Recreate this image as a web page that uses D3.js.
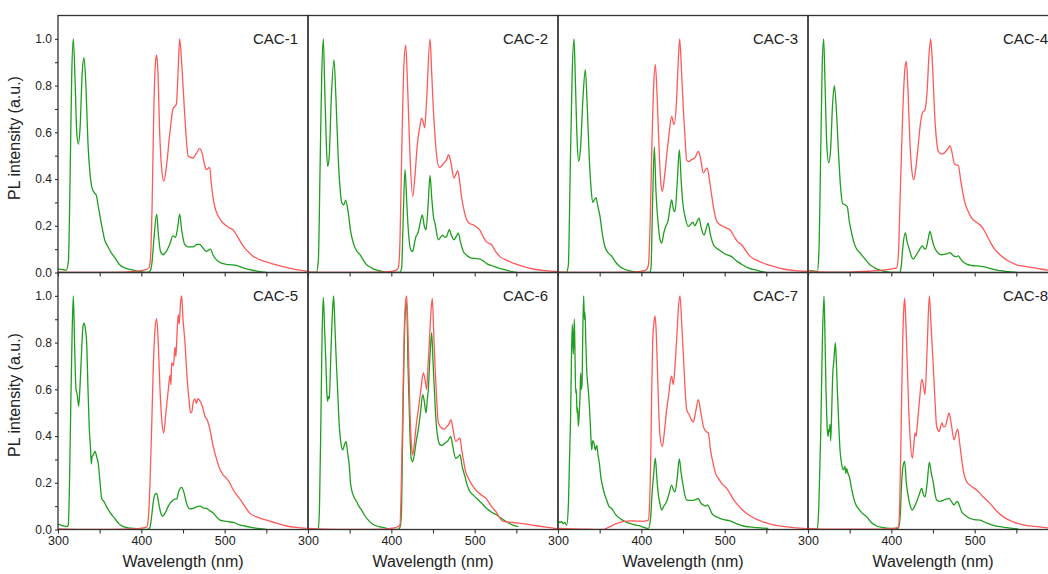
<!DOCTYPE html>
<html>
<head>
<meta charset="utf-8">
<script src="https://cdn.jsdelivr.net/npm/d3@7"></script>
<style>
	body { margin: 0; background: #ffffff; }
	svg text { font-family: "Liberation Sans", Arial, sans-serif; fill: #222; }
</style>
</head>
<body>
<svg id="vis"></svg>
<script>
// ---------- data ----------
var panelNames = ["CAC-1", "CAC-2", "CAC-3", "CAC-4", "CAC-5", "CAC-6", "CAC-7", "CAC-8"];
var wavelengthTicks = [300, 350, 400, 450, 500, 550];
var wavelengthLabels = [300, 400, 500];
var intensityTicks = [0, 0.1, 0.2, 0.3, 0.4, 0.5, 0.6, 0.7, 0.8, 0.9, 1.0];
var intensityLabels = [0, 0.2, 0.4, 0.6, 0.8, 1.0];

// [wavelength (nm), normalised PL intensity]
var cac1Green = [[300,0.015],[306,0.012],[310,0.01],[312.5,0.05],[314.5,0.4],[316.5,0.85],[318.4,1.0],[320.5,0.82],[322.5,0.6],[324.4,0.55],[326.5,0.62],[329,0.85],[331.2,0.92],[333.5,0.8],[336,0.55],[338.5,0.42],[341,0.36],[344,0.34],[346,0.33],[348,0.29],[350,0.25],[353,0.19],[356,0.14],[360,0.11],[364,0.084],[368,0.065],[374,0.033],[380,0.02],[390,0.01],[400,0.003],[408,0.0],[411,0.01],[413,0.05],[415,0.14],[418.4,0.25],[420.5,0.16],[423,0.09],[426,0.076],[430,0.09],[434,0.12],[438,0.157],[441,0.15],[443.5,0.19],[446,0.25],[448.5,0.18],[452,0.12],[456,0.11],[462,0.11],[467,0.12],[470,0.12],[474,0.105],[478,0.09],[483,0.1],[486,0.075],[490,0.055],[496,0.04],[502,0.035],[508,0.033],[514,0.03],[522,0.02],[530,0.012],[540,0.005],[550,0.0]];
var cac1Red = [[300,0.002],[340,0.0],[380,0.002],[395,0.006],[405,0.012],[409,0.02],[411,0.06],[413,0.3],[415,0.7],[417,0.9],[418.4,0.93],[420,0.85],[422,0.6],[424.5,0.44],[427,0.39],[430,0.45],[434,0.59],[438,0.7],[442,0.72],[444,0.85],[446,1.0],[448,0.92],[450,0.8],[452,0.68],[454,0.57],[456,0.5],[462,0.49],[466,0.51],[470,0.53],[473,0.51],[476,0.46],[478,0.44],[482,0.45],[484,0.38],[487,0.3],[490,0.26],[496,0.22],[502,0.2],[506,0.19],[510,0.183],[516,0.15],[522,0.114],[528,0.09],[534,0.07],[542,0.055],[550,0.045],[560,0.035],[570,0.025],[580,0.017],[590,0.01],[600,0.005]];

var cac2Green = [[300,0.0],[310,0.0],[312.4,0.05],[314.5,0.45],[316.5,0.85],[318.4,1.0],[320,0.8],[322,0.55],[323.6,0.454],[325.5,0.5],[328,0.75],[331.2,0.91],[333.5,0.75],[336.4,0.48],[338.5,0.36],[340.4,0.3],[343,0.29],[345.2,0.31],[348.4,0.254],[351,0.18],[354.4,0.126],[358,0.095],[362.4,0.076],[366,0.055],[370.4,0.033],[376,0.02],[382.4,0.01],[390,0.004],[398.4,0.0],[410,0.0],[412.4,0.02],[414,0.2],[416.4,0.44],[418.5,0.3],[420.4,0.18],[423,0.1],[425.6,0.09],[428,0.13],[429.6,0.154],[432,0.17],[435,0.22],[437.2,0.247],[439.5,0.2],[441.6,0.183],[444,0.28],[446.4,0.416],[448.5,0.32],[450.5,0.24],[452.4,0.21],[456.4,0.14],[459,0.15],[461.6,0.16],[464,0.15],[466.4,0.155],[469.6,0.183],[472,0.16],[475.2,0.14],[478,0.155],[480.4,0.168],[483,0.13],[486.4,0.09],[490,0.075],[494.4,0.064],[500,0.06],[506.4,0.057],[512,0.045],[516,0.035],[520.4,0.03],[528,0.02],[538.4,0.01],[545,0.004],[550.4,0.0]];
var cac2Red = [[300,0.002],[350,0.0],[390,0.002],[402,0.006],[406,0.01],[408.4,0.02],[410.5,0.15],[412.4,0.5],[415,0.88],[417.2,0.973],[419.5,0.8],[422.4,0.5],[425.6,0.326],[428.5,0.42],[431.2,0.55],[434,0.62],[436.4,0.661],[438.5,0.64],[440,0.619],[442.5,0.75],[446.4,1.0],[448.5,0.85],[450.4,0.7],[452.5,0.58],[454.4,0.5],[457.6,0.45],[460,0.455],[463.2,0.469],[466,0.48],[468.8,0.504],[471.5,0.47],[475.2,0.404],[477.5,0.42],[479.6,0.436],[482,0.39],[484.4,0.32],[487,0.27],[490.4,0.226],[494,0.21],[498.4,0.204],[502,0.195],[506.4,0.18],[510,0.155],[514.4,0.13],[520.4,0.119],[525,0.09],[530.4,0.068],[540,0.05],[550.4,0.035],[560,0.024],[570.4,0.015],[585,0.008],[600,0.004]];

var cac3Green = [[300,0.0],[310,0.0],[312.4,0.03],[314.5,0.4],[317,0.85],[319.2,1.0],[321,0.8],[323,0.56],[324.8,0.476],[327,0.53],[330,0.75],[332.8,0.868],[335,0.72],[337.6,0.482],[339.5,0.37],[341.6,0.3],[343.5,0.31],[345.6,0.32],[348,0.28],[350.4,0.24],[353,0.17],[356.4,0.11],[360,0.085],[364.4,0.07],[369,0.045],[374.4,0.025],[380,0.014],[388.4,0.005],[402,0.0],[410,0.0],[411.6,0.02],[413.5,0.3],[415.6,0.537],[417.5,0.35],[420.4,0.2],[422.5,0.14],[424.4,0.126],[427,0.17],[429.6,0.2],[432,0.22],[434.5,0.28],[436.4,0.311],[438.5,0.27],[440.4,0.261],[443,0.38],[445.6,0.525],[448,0.38],[450,0.29],[452.4,0.24],[456.4,0.197],[459,0.205],[461.6,0.215],[464.4,0.2],[466.5,0.215],[469.2,0.233],[472,0.19],[475.2,0.16],[478,0.19],[480,0.211],[483,0.16],[486.4,0.12],[490,0.105],[494.4,0.094],[500,0.08],[508.4,0.068],[514,0.05],[520.4,0.035],[528,0.02],[538.4,0.01],[545,0.004],[550.4,0.0]];
var cac3Red = [[300,0.002],[350,0.0],[390,0.002],[402,0.007],[406,0.012],[408.4,0.03],[410.5,0.2],[412.4,0.5],[414.8,0.8],[416.8,0.89],[419,0.75],[421.6,0.5],[423.5,0.38],[425.2,0.347],[427.5,0.4],[430.4,0.5],[433.5,0.6],[436.4,0.668],[439.2,0.633],[442,0.72],[444,0.88],[446,1.0],[448,0.88],[450.4,0.7],[452.5,0.57],[454.4,0.48],[457,0.475],[460.4,0.483],[464,0.49],[468.4,0.518],[471,0.49],[474.4,0.426],[477,0.44],[479.2,0.447],[482,0.39],[484.4,0.33],[487,0.27],[490.4,0.22],[494,0.205],[498.4,0.197],[502,0.19],[506.4,0.183],[512,0.15],[516,0.13],[520.4,0.119],[525,0.095],[530.4,0.07],[540,0.05],[550.4,0.035],[560,0.025],[570.4,0.015],[585,0.008],[600,0.005]];

var cac4Green = [[300,0.009],[306,0.007],[311.2,0.005],[313,0.08],[315.2,0.5],[317,0.88],[318.8,1.0],[320.5,0.8],[322.5,0.55],[324.8,0.47],[327,0.52],[329.5,0.72],[331.6,0.8],[334,0.7],[336.4,0.526],[339,0.37],[341.6,0.294],[344.5,0.29],[347.2,0.28],[349.5,0.22],[352.4,0.169],[355,0.13],[358.4,0.1],[361,0.09],[364.4,0.075],[369,0.055],[374.4,0.033],[380,0.02],[386.4,0.01],[394,0.004],[402.4,0.0],[410.4,0.0],[412,0.03],[413.6,0.1],[416.8,0.169],[419,0.13],[421.6,0.1],[424,0.07],[426.4,0.057],[429,0.07],[432.4,0.09],[435,0.105],[437.2,0.114],[439,0.105],[441.2,0.1],[444,0.14],[446.4,0.176],[449,0.14],[451.5,0.11],[454.4,0.09],[457,0.08],[460.4,0.076],[463,0.078],[466.4,0.08],[470.4,0.085],[473,0.077],[475.2,0.07],[478,0.068],[480.4,0.071],[483,0.058],[486.4,0.045],[491,0.035],[496.4,0.03],[503,0.028],[510.4,0.025],[518,0.018],[524,0.012],[530.4,0.008],[540,0.004],[550.4,0.0]];
var cac4Red = [[300,0.009],[306,0.004],[320,0.002],[350,0.002],[375,0.006],[390,0.01],[398.4,0.014],[406.4,0.02],[408.5,0.08],[410.4,0.3],[412.5,0.55],[414.4,0.75],[416.5,0.88],[418,0.904],[420,0.78],[422.4,0.55],[424.5,0.44],[426.8,0.397],[429.5,0.45],[432.4,0.55],[435,0.64],[437.2,0.683],[440.4,0.697],[443,0.78],[445,0.92],[447.2,1.0],[449.5,0.88],[452.4,0.65],[454.4,0.56],[456.4,0.518],[460.4,0.507],[463,0.51],[465.6,0.52],[468,0.53],[470.4,0.543],[473,0.51],[475.6,0.466],[478,0.46],[480.4,0.46],[483,0.4],[486.4,0.33],[489,0.29],[492.4,0.261],[496,0.235],[500.4,0.219],[504,0.21],[508.4,0.197],[513,0.17],[518.4,0.133],[524,0.1],[530.4,0.076],[540,0.05],[550.4,0.033],[562,0.025],[574.4,0.018],[588,0.01],[600,0.006]];

var cac5Green = [[300,0.023],[305,0.017],[310,0.012],[312.4,0.02],[313.8,0.2],[315.2,0.5],[317,0.85],[318.4,1.0],[320,0.78],[321.6,0.6],[323,0.58],[324.8,0.527],[326.5,0.62],[328.8,0.8],[330,0.87],[331.2,0.883],[332.8,0.86],[334.4,0.8],[336,0.6],[337.6,0.427],[339,0.35],[340,0.28],[340.8,0.31],[342.5,0.32],[344.4,0.334],[346.5,0.31],[348.4,0.28],[350.5,0.2],[352.4,0.133],[355,0.12],[358.4,0.097],[363,0.07],[368.4,0.046],[373,0.025],[378.4,0.012],[384,0.007],[390.4,0.005],[400,0.002],[406.4,0.0],[409,0.003],[410.4,0.01],[412.5,0.06],[414.4,0.12],[416.5,0.15],[418.4,0.155],[420.5,0.12],[423,0.075],[425.6,0.057],[428.5,0.07],[432.4,0.1],[435,0.115],[438.4,0.126],[440,0.13],[442.4,0.13],[445,0.165],[448.4,0.18],[451,0.16],[454.4,0.11],[458.4,0.088],[462,0.09],[466,0.097],[470.4,0.1],[474,0.093],[478.4,0.09],[482,0.08],[486.4,0.07],[490,0.055],[494.4,0.04],[500,0.036],[505,0.033],[510.4,0.03],[518,0.02],[524,0.015],[530.4,0.01],[540,0.005],[550.4,0.0]];
var cac5Red = [[300,0.003],[340,0.0],[380,0.002],[395,0.004],[402,0.007],[406.4,0.01],[408.5,0.05],[410.4,0.2],[412.5,0.45],[414.4,0.7],[416.5,0.86],[418.4,0.903],[420.3,0.8],[422.4,0.6],[424.5,0.47],[426.8,0.413],[429.5,0.5],[432.4,0.6],[434.5,0.66],[435.5,0.62],[436.4,0.714],[438.5,0.7],[440.4,0.78],[441.5,0.74],[443,0.85],[444.4,0.92],[445.5,0.88],[447,0.97],[448.4,1.0],[450,0.9],[452.4,0.8],[454.5,0.67],[456,0.6],[457.6,0.542],[459,0.5],[460.4,0.5],[462,0.54],[464.4,0.559],[466,0.54],[468,0.56],[470.4,0.55],[473,0.53],[476.4,0.484],[479,0.47],[482.4,0.427],[486,0.36],[490.4,0.3],[494,0.26],[498.4,0.233],[502,0.22],[506,0.2],[510.4,0.169],[514,0.15],[518.4,0.13],[524,0.1],[530.4,0.069],[540,0.052],[550.4,0.04],[562,0.027],[574.4,0.015],[586,0.009],[598.4,0.005]];

var cac6Green = [[300,0.0],[308,0.0],[312.4,0.0],[313.8,0.1],[315.6,0.5],[317,0.85],[318.4,0.993],[320,0.85],[321.6,0.7],[322.7,0.58],[323.6,0.549],[324.5,0.57],[325.6,0.56],[327,0.7],[328.4,0.85],[329.6,0.95],[330.8,1.0],[332,0.9],[333.6,0.75],[335.5,0.6],[337.6,0.441],[339.5,0.37],[341.6,0.341],[343.5,0.36],[345.6,0.377],[347.5,0.33],[349.6,0.269],[351,0.2],[352.4,0.169],[355,0.14],[358.4,0.119],[361,0.1],[364.4,0.083],[368,0.06],[372.4,0.04],[377,0.025],[382.4,0.015],[388,0.01],[394.4,0.005],[402,0.0],[408,0.0],[410.4,0.01],[412,0.06],[413.6,0.4],[415.5,0.8],[417.2,0.95],[418.4,0.97],[420,0.7],[422.4,0.4],[424,0.3],[425.6,0.29],[428,0.33],[430,0.38],[432.4,0.43],[435,0.5],[437.6,0.577],[439.5,0.55],[441.6,0.499],[443,0.55],[444.4,0.6],[446.5,0.75],[448.4,0.843],[450,0.72],[451.6,0.6],[453,0.5],[454.4,0.43],[456.5,0.38],[458.4,0.362],[461,0.36],[464.4,0.37],[468,0.38],[471.2,0.398],[474,0.35],[477.2,0.305],[480,0.31],[482.4,0.32],[485,0.27],[488.4,0.226],[491,0.19],[494.4,0.162],[499,0.145],[504.4,0.126],[509,0.11],[514.4,0.09],[520,0.075],[526.4,0.062],[532,0.048],[538.4,0.033],[545,0.02],[552.4,0.012]];
var cac6Red = [[300,0.005],[320,0.002],[360,0.0],[390,0.002],[402,0.006],[408,0.012],[410.4,0.02],[412,0.2],[413.6,0.5],[415.5,0.85],[417,0.97],[418.4,1.0],[420.3,0.8],[422.4,0.5],[424,0.37],[425.6,0.319],[428,0.38],[430,0.45],[432.4,0.513],[435.5,0.6],[438.4,0.67],[440.5,0.64],[442.4,0.599],[444,0.7],[445.6,0.8],[447.5,0.93],[449.2,0.989],[451,0.83],[452.4,0.7],[454.5,0.55],[456.4,0.456],[460.4,0.434],[463.5,0.43],[466.4,0.44],[469,0.45],[471.6,0.47],[474,0.43],[477.2,0.377],[480,0.385],[482.4,0.391],[484.5,0.34],[486.4,0.3],[489,0.25],[492.4,0.219],[497,0.19],[502.4,0.165],[508,0.148],[514.4,0.13],[520,0.1],[526.4,0.072],[530,0.05],[534.4,0.035],[546,0.03],[558.4,0.025],[574,0.016],[590.4,0.008],[600,0.003]];

var cac7Green = [[300,0.043],[302,0.03],[304.4,0.035],[306,0.025],[308,0.03],[310.4,0.019],[312.4,0.1],[313.8,0.3],[315.2,0.5],[316.2,0.75],[317.2,0.878],[318.4,0.75],[319.6,0.9],[320.4,0.75],[321.2,0.585],[322,0.6],[322.8,0.499],[323.6,0.52],[324.4,0.441],[325.6,0.5],[326.5,0.58],[327.2,0.67],[328,0.6],[328.8,0.62],[329.8,0.85],[330.8,1.0],[331.6,0.9],[332.4,0.93],[333.4,0.8],[334.4,0.685],[335.8,0.62],[337.2,0.556],[338.8,0.45],[340.4,0.341],[341.8,0.38],[343.2,0.37],[344.8,0.34],[346.4,0.36],[348,0.32],[349.6,0.284],[351.6,0.22],[353.6,0.184],[356,0.15],[358.4,0.126],[361,0.1],[364.4,0.09],[369,0.065],[374.4,0.047],[380,0.035],[386.4,0.026],[392,0.02],[398.4,0.015],[404,0.008],[408.4,0.005],[411.2,0.05],[412.8,0.15],[414.4,0.22],[416.8,0.305],[418.6,0.22],[420.4,0.15],[422.4,0.11],[424.4,0.083],[427,0.1],[430.4,0.12],[433,0.15],[436.4,0.19],[438.4,0.17],[440.4,0.16],[443,0.22],[445.6,0.302],[447.5,0.25],[449.6,0.2],[452,0.15],[454.4,0.126],[458,0.125],[462.4,0.125],[465,0.128],[468.4,0.133],[471,0.115],[474.4,0.105],[477,0.1],[479.6,0.105],[482,0.09],[484.4,0.07],[488,0.058],[492.4,0.051],[499,0.042],[506.4,0.037],[514,0.025],[522.4,0.015],[530,0.011],[538.4,0.008],[545,0.006],[552.4,0.005]];
var cac7Red = [[300,0.005],[330,0.002],[354.4,0.0],[358,0.005],[362.4,0.012],[368,0.022],[374.4,0.031],[380,0.035],[386.4,0.037],[394,0.036],[402.4,0.035],[406,0.037],[408.4,0.04],[409.8,0.1],[411.2,0.3],[412.5,0.6],[413.6,0.8],[415,0.88],[416.4,0.914],[417.8,0.85],[419.2,0.7],[420.8,0.52],[422.4,0.4],[425.2,0.355],[428,0.43],[430.4,0.513],[433,0.58],[435,0.64],[436.4,0.656],[438.4,0.62],[440.4,0.7],[442.5,0.82],[444.5,0.95],[446.4,1.0],[448.5,0.88],[450.4,0.75],[452.5,0.6],[454.4,0.513],[457.6,0.49],[460,0.47],[462.4,0.46],[465,0.5],[468.4,0.556],[471,0.51],[474.4,0.441],[477.5,0.42],[480.4,0.413],[483,0.34],[486.4,0.28],[489,0.24],[492.4,0.219],[497,0.195],[502.4,0.176],[507,0.15],[512.4,0.119],[517,0.1],[522.4,0.08],[530,0.06],[538.4,0.043],[548,0.03],[558.4,0.02],[570,0.013],[582.4,0.008],[600,0.003]];

var cac8Green = [[300,0.0],[311.2,0.0],[313,0.1],[315.2,0.4],[317.2,0.8],[319.2,1.0],[320.4,0.82],[321.6,0.6],[322.8,0.45],[324,0.398],[325,0.43],[325.6,0.42],[326.4,0.45],[327.2,0.38],[328.4,0.5],[329.6,0.656],[331,0.72],[332.8,0.8],[334,0.72],[335.2,0.6],[336.8,0.46],[338.4,0.341],[340.4,0.28],[342.4,0.255],[344.4,0.27],[345.4,0.24],[346.4,0.26],[348,0.24],[349.6,0.226],[352,0.18],[354.4,0.141],[357,0.11],[360.4,0.09],[365,0.07],[370.4,0.054],[376,0.03],[382.4,0.015],[390,0.008],[398.4,0.005],[408.4,0.005],[410.5,0.05],[412.4,0.2],[414,0.27],[416,0.291],[418,0.2],[420.4,0.14],[422.8,0.1],[425.2,0.083],[428,0.1],[430.4,0.119],[433.5,0.15],[436.4,0.176],[438.5,0.15],[440.4,0.14],[443,0.2],[445.6,0.288],[448,0.24],[450.4,0.2],[452.5,0.15],[454.4,0.126],[458,0.12],[462.4,0.125],[466,0.13],[469.2,0.133],[472,0.12],[475.2,0.105],[477.5,0.115],[479.2,0.12],[482,0.1],[484.4,0.076],[489,0.06],[494.4,0.047],[500,0.042],[506.4,0.04],[514,0.028],[522.4,0.018],[530,0.012],[538.4,0.008],[545,0.005],[552.4,0.003]];
var cac8Red = [[300,0.005],[320,0.002],[360,0.001],[390,0.002],[398.4,0.003],[405,0.006],[408.4,0.01],[410,0.1],[411.6,0.4],[413.6,0.8],[415,0.95],[416,0.989],[417.5,0.88],[419.2,0.7],[420.8,0.52],[422.4,0.4],[425.2,0.305],[427,0.36],[428.4,0.413],[429.8,0.4],[431.2,0.45],[434,0.56],[436.4,0.642],[438.4,0.62],[440.4,0.577],[443,0.78],[445.6,1.0],[447.6,0.88],[449.6,0.75],[452,0.58],[454.4,0.441],[457.6,0.419],[459,0.44],[460.8,0.456],[462.5,0.44],[464.4,0.44],[467,0.47],[469.2,0.499],[472,0.45],[475.2,0.384],[477.5,0.41],[479.6,0.43],[482,0.37],[484.4,0.3],[487,0.24],[490.4,0.205],[496,0.185],[502.4,0.169],[510,0.14],[518.4,0.112],[526,0.08],[534.4,0.054],[546,0.033],[558.4,0.02],[572,0.013],[588,0.007],[600,0.004]];

var greenSeries = [cac1Green, cac2Green, cac3Green, cac4Green, cac5Green, cac6Green, cac7Green, cac8Green];
var redSeries = [cac1Red, cac2Red, cac3Red, cac4Red, cac5Red, cac6Red, cac7Red, cac8Red];

// ---------- layout ----------
var layout = {
	svg: {width: 1048, height: 574},
	left: 58, top: 15.5,
	panelWidth: 250, panelHeight: 257
};
var axisColor = "#333333";
var redColor = "#ff5959";
var greenColor = "#1f9e1f";

var svg = d3.select("svg#vis")
	.attr("width", layout.svg.width)
	.attr("height", layout.svg.height);

svg.append("rect")
	.attr("width", layout.svg.width)
	.attr("height", layout.svg.height)
	.attr("fill", "#ffffff");

var xScale = d3.scaleLinear().domain([300, 600]).range([0, layout.panelWidth]);
var yScale = d3.scaleLinear().domain([0, 1.1]).range([layout.panelHeight, 0]);

var line = d3.line()
	.x(function(d) {return xScale(d[0])})
	.y(function(d) {return yScale(d[1])})
	.curve(d3.curveMonotoneX);

svg.append("defs").append("clipPath")
	.attr("id", "panelClip")
	.append("rect")
	.attr("width", layout.panelWidth)
	.attr("height", layout.panelHeight);

panelNames.forEach(function(name, i) {
	var col = i % 4, row = Math.floor(i / 4);
	var g = svg.append("g")
		.attr("transform", "translate(" + (layout.left + col * layout.panelWidth) + ", " + (layout.top + row * layout.panelHeight) + ")");

	// curves
	var plot = g.append("g").attr("clip-path", "url(#panelClip)");
	plot.append("path")
		.datum(greenSeries[i])
		.attr("d", line)
		.attr("fill", "none")
		.attr("stroke", greenColor)
		.attr("stroke-width", 1.3)
		.attr("stroke-linejoin", "round");
	plot.append("path")
		.datum(redSeries[i])
		.attr("d", line)
		.attr("fill", "none")
		.attr("stroke", redColor)
		.attr("stroke-width", 1.3)
		.attr("stroke-linejoin", "round");

	// frame
	g.append("rect")
		.attr("width", layout.panelWidth)
		.attr("height", layout.panelHeight)
		.attr("fill", "none")
		.attr("stroke", axisColor)
		.attr("stroke-width", 1.3);

	// x axis
	var xAxis = g.append("g")
		.attr("class", "xAxis")
		.attr("transform", "translate(0, " + layout.panelHeight + ")")
		.call(d3.axisBottom(xScale)
			.tickValues(wavelengthTicks)
			.tickSize(4)
			.tickPadding(3)
			.tickFormat(function(d) {return (row === 1 && wavelengthLabels.indexOf(d) >= 0) ? d : ""}));
	xAxis.select(".domain").remove();
	xAxis.selectAll("line").attr("stroke", axisColor).attr("stroke-width", 1.1);
	xAxis.selectAll("text").style("font-size", "12.5px").attr("fill", "#222");

	// y axis only on the first column
	if (col === 0) {
		var yAxis = g.append("g")
			.attr("class", "yAxis")
			.call(d3.axisLeft(yScale)
				.tickValues(intensityTicks)
				.tickSize(3)
				.tickPadding(3)
				.tickFormat(function(d) {
					var lab = intensityLabels.some(function(v) {return Math.abs(v - d) < 1e-6});
					return lab ? d3.format(".1f")(d) : "";
				}));
		yAxis.select(".domain").remove();
		yAxis.selectAll("line").attr("stroke", axisColor).attr("stroke-width", 1.1);
		yAxis.selectAll("text").style("font-size", "12px").attr("fill", "#222");

		g.append("text")
			.text("PL intensity (a.u.)")
			.attr("transform", "translate(-38, " + (layout.panelHeight / 2 - 6) + ") rotate(-90)")
			.style("text-anchor", "middle")
			.style("font-size", "16px");
	}

	// x title on the bottom row
	if (row === 1) {
		g.append("text")
			.text("Wavelength (nm)")
			.attr("x", layout.panelWidth / 2)
			.attr("y", layout.panelHeight + 37)
			.style("text-anchor", "middle")
			.style("font-size", "16px");
	}

	// panel label
	g.append("text")
		.text(name)
		.attr("x", layout.panelWidth - 10)
		.attr("y", 28.5)
		.style("text-anchor", "end")
		.style("font-size", "15px");
});
</script>
</body>
</html>
